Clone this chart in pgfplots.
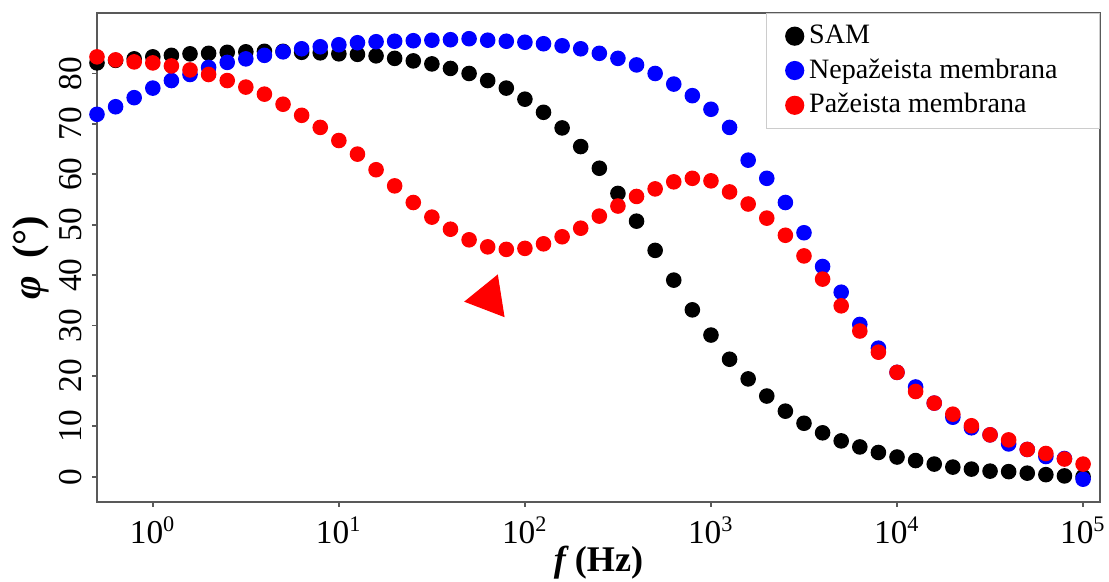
\documentclass[border=0pt]{standalone}
\usepackage{fontspec}
\setmainfont{Liberation Serif}
\usepackage{pgfplots}
\usepackage{pgfplotstable}
\pgfplotsset{compat=1.18}
\pgfplotstableread{
f sam nep paz
0.5012 82.1 71.9 83.3
0.6310 82.6 73.4 82.7
0.7943 82.9 75.2 82.3
1.0 83.3 77.1 82.1
1.2589 83.6 78.6 81.5
1.5849 83.9 79.8 80.7
1.9953 84.0 81.2 79.8
2.5119 84.2 82.2 78.6
3.1623 84.3 82.9 77.3
3.9811 84.4 83.6 75.9
5.0119 84.4 84.3 73.9
6.3096 84.2 84.9 71.7
7.9433 84.1 85.3 69.3
10 83.9 85.7 66.7
12.589 83.8 86.1 64.0
15.849 83.5 86.3 60.9
19.953 83.0 86.4 57.7
25.119 82.5 86.5 54.4
31.623 81.9 86.6 51.5
39.811 81.0 86.7 49.1
50.119 80.0 86.9 47.0
63.096 78.6 86.6 45.6
79.433 77.1 86.4 45.1
100 74.9 86.2 45.3
125.89 72.3 85.9 46.2
158.49 69.2 85.5 47.6
199.53 65.5 84.9 49.3
251.19 61.2 84.0 51.7
316.23 56.2 83.0 53.7
398.11 50.7 81.7 55.6
501.19 44.9 80.0 57.1
630.96 39.0 77.9 58.5
794.33 33.1 75.6 59.2
1000 28.1 72.9 58.7
1258.9 23.3 69.3 56.5
1584.9 19.4 62.8 54.1
1995.3 16.0 59.2 51.3
2511.9 13.0 54.4 47.9
3162.3 10.6 48.4 43.8
3981.1 8.7 41.7 39.2
5011.9 7.1 36.6 33.9
6309.6 5.9 30.2 28.9
7943.3 4.8 25.5 24.7
10000 3.9 20.7 20.7
12589 3.2 17.8 16.9
15849 2.5 14.6 14.6
19953 1.9 11.8 12.4
25119 1.5 9.7 10.1
31623 1.1 8.3 8.3
39811 1.0 6.5 7.3
50119 0.7 5.4 5.4
63096 0.4 4.0 4.6
79433 0.15 3.6 3.5
100000 0.0 -0.5 2.5
}\datatab
\begin{document}
\begin{tikzpicture}
\begin{axis}[
  scale only axis,
  width=361.1pt, height=176.0pt,
  xmode=log,
  xmin=0.5012, xmax=123300,
  ymin=-5, ymax=92,
  xtick={1,10,100,1000,10000,100000},
  xticklabels={10\textsuperscript{0},10\textsuperscript{1},10\textsuperscript{2},10\textsuperscript{3},10\textsuperscript{4},10\textsuperscript{5}},
  xminorticks=false,
  ytick={0,10,...,80},
  /pgf/number format/assume math mode=true,
  tick align=outside,
  xtick pos=bottom, ytick pos=left,
  major tick length=1.8pt,
  tick style={black!65, line width=0.6pt},
  axis line style={black!65, line width=0.75pt},
  ticklabel style={font=\fontsize{12}{14}\selectfont},
  yticklabel style={rotate=90, anchor=south},
  xlabel={\textbf{\textit{f}\,(Hz)}},
  ylabel={\textbf{\textit{φ}}\, \textbf{(°)}},
  xlabel style={font=\fontsize{13}{15}\selectfont, yshift=6pt},
  ylabel style={font=\fontsize{14.5}{16}\selectfont, yshift=-3pt},
  legend style={at={(rel axis cs:1,1)}, anchor=north east, draw=black!20, line width=0.5pt,
    font=\fontsize{10.1}{11.2}\selectfont, inner xsep=7pt, inner ysep=2pt, row sep=0pt},
  legend image post style={mark size=3.2pt},
  legend cell align=left,
]
\addplot[only marks, mark=*, mark size=2.6pt, black, mark options={draw=black, fill=black}] table[x=f, y=sam] {\datatab};
\addlegendentry{SAM}
\addplot[only marks, mark=*, mark size=2.6pt, blue, mark options={draw=blue, fill=blue}] table[x=f, y=nep] {\datatab};
\addlegendentry{Nepažeista membrana\hspace*{6pt}\mbox{}}
\addplot[only marks, mark=*, mark size=2.6pt, red, mark options={draw=red, fill=red}] table[x=f, y=paz] {\datatab};
\addlegendentry{Pažeista membrana}
\addplot[only marks, mark=triangle*, mark size=8.6pt, red, mark options={rotate=-21, draw=red, fill=red}, forget plot] coordinates {(64,35.5)};
\end{axis}
\pgfresetboundingbox
\path (current axis.south west) ++(-34.92pt,-28.8pt) coordinate (bbA);
\path (current axis.north east) ++(3.24pt,4.68pt) coordinate (bbB);
\useasboundingbox (bbA) rectangle (bbB);
\end{tikzpicture}
\end{document}
